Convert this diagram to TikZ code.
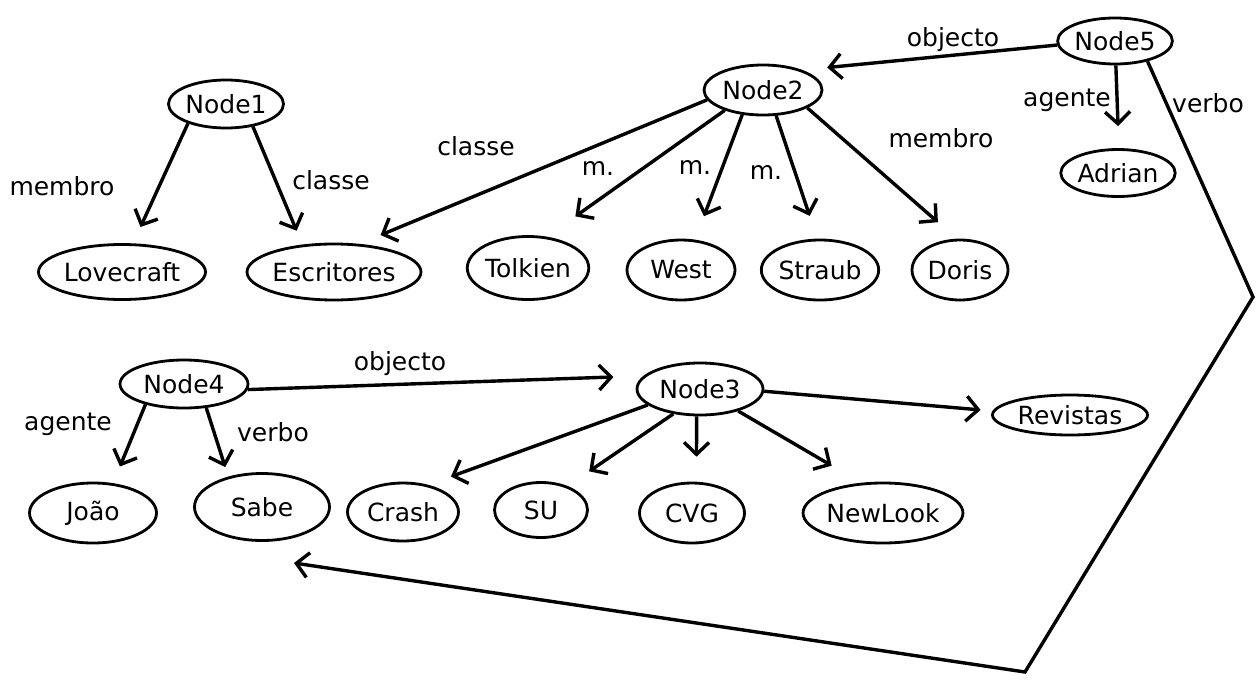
\documentclass[tikz,border=0pt]{standalone}
\usepackage{fontspec}
\setmainfont{DejaVu Sans}
\usetikzlibrary{shapes.geometric,arrows.meta}
\tikzstyle{concept} = [draw=black, ellipse, line width=2.8pt, inner sep=0pt, font={\fontsize{25}{30}\selectfont}]
\tikzstyle{lbl} = [font={\fontsize{25}{30}\selectfont}, inner sep=0pt]
\tikzstyle{rel} = [line width=3.4pt, -{Straight Barb[length=12pt,width=25pt]}]

\begin{document}
\begin{tikzpicture}[x=1pt,y=-1pt]
        \useasboundingbox (0,0) rectangle (1257,680);
        % upper half
        \node[concept,minimum width=115,minimum height=48](n1) at (226,104){Node1};
        \node[concept,minimum width=118,minimum height=50](n2) at (763,90){Node2};
        \node[concept,minimum width=104,minimum height=46](n5) at (1115,41){Node5};
        \node[concept,minimum width=113,minimum height=47](adrian) at (1118,173){Adrian};
        \node[concept,minimum width=167,minimum height=55](lovecraft) at (122,272){Lovecraft};
        \node[concept,minimum width=173,minimum height=56](escritores) at (334,272){Escritores};
        \node[concept,minimum width=107,minimum height=63](tolkien) at (528,268){Tolkien};
        \node[concept,minimum width=108,minimum height=60](west) at (681,270){West};
        \node[concept,minimum width=115,minimum height=60](straub) at (820,270){Straub};
        \node[concept,minimum width=96,minimum height=60](doris) at (960,270){Doris};
        % lower half
        \node[concept,minimum width=128,minimum height=48](n4) at (184,384){Node4};
        \node[concept,minimum width=126,minimum height=52](n3) at (700,389){Node3};
        \node[concept,minimum width=155,minimum height=40](revistas) at (1070,415){Revistas};
        \node[concept,minimum width=127,minimum height=60](joao) at (93,513){João};
        \node[concept,minimum width=135,minimum height=67](sabe) at (262,507){Sabe};
        \node[concept,minimum width=111,minimum height=58](crash) at (403,512){Crash};
        \node[concept,minimum width=93,minimum height=55](su) at (541,510){SU};
        \node[concept,minimum width=105,minimum height=60](cvg) at (692,513){CVG};
        \node[concept,minimum width=147,minimum height=60](newlook) at (883,513){NewLook};
        \coordinate (c1) at (1253,297);
        \coordinate (c2) at (1025,672);
        \coordinate (sabetip) at (294,563);
        % labels
        \node[lbl](l1) at (62,186){membro};
        \node[lbl](l2) at (331,180){classe};
        \node[lbl](l3) at (476,146){classe};
        \node[lbl](l4) at (598,168){m.};
        \node[lbl](l5) at (695,167){m.};
        \node[lbl](l6) at (766,172){m.};
        \node[lbl](l7) at (941,138){membro};
        \node[lbl](l8) at (953,40){objecto};
        \node[lbl](l9) at (1067,100){agente};
        \node[lbl](l10) at (1208,103){verbo};
        \node[lbl](l11) at (400,364){objecto};
        \node[lbl](l12) at (68,424){agente};
        \node[lbl](l13) at (273,432){verbo};
        % connectors
        \draw[rel,shorten >=18pt](n1.207)--(lovecraft.69);
        \draw[rel,shorten >=15pt](n1.320)--(escritores.139);
        \draw[rel,shorten >=23pt](n2.190)--(escritores.48);
        \draw[rel,shorten >=35pt](n2.208)--(tolkien.59);
        \draw[rel,shorten >=25pt](n2.230)--(west.65);
        \draw[rel,shorten >=24pt](n2.297)--(straub.95);
        \draw[rel,shorten >=25pt](n2.338)--(doris.96);
        \draw[rel,shorten >=25pt](n5.184)--(n2.27);
        \draw[rel,shorten >=22pt](n5.272)--(adrian.88);
        \draw[rel,line join=miter](n5.328)--(c1)--(c2)--(sabetip);
        \draw[rel,shorten >=18pt](n4.208)--(joao.56);
        \draw[rel,shorten >=10pt](n4.313)--(sabe.138);
        \draw[rel,shorten >=30pt](n4.355)--(n3.167);
        \draw[rel,shorten >=12pt](n3.358)--(revistas.177);
        \draw[rel,shorten >=24pt](n3.197)--(crash.47);
        \draw[rel,shorten >=26pt](n3.223)--(su.42);
        \draw[rel,shorten >=25pt](n3.263)--(cvg.82);
        \draw[rel,shorten >=34pt](n3.330)--(newlook.126);
      \end{tikzpicture}
\end{document}
